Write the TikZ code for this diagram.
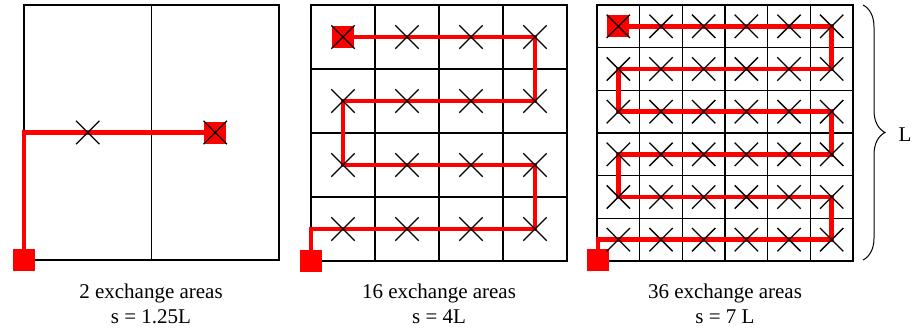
\documentclass[tikz,border=0pt]{standalone}
\usepackage{fontspec}
\setmainfont{Liberation Serif}
\usetikzlibrary{shapes.misc,decorations.pathreplacing}
\tikzset{
  gridline/.style={line width=1.4pt,draw=black},
  route/.style={line width=4.5pt,draw=red},
  xmark/.style={cross out,draw=black,line width=1.3pt,minimum size=22pt,inner sep=0pt},
  term/.style={rectangle,fill=red,minimum size=22pt,inner sep=0pt},
  lbl/.style={font=\fontsize{21}{25}\selectfont,anchor=base,inner sep=0pt},
  bracestyle/.style={line width=1pt,draw=black,decorate,decoration={brace,amplitude=22pt}}
}
\begin{document}
\begin{tikzpicture}[x=1pt,y=-1pt]
\useasboundingbox (0,0) rectangle (912,329);
% ---------- Panel 1 ----------
\draw[gridline] (24,5) rectangle (279,260);
\draw[gridline] (151.5,5) -- (151.5,260);
\coordinate (a1) at (87.75,132.5);
\coordinate (a2) at (215.25,132.5);
\coordinate (p1s) at (24,260);
\draw[route] (p1s) |- (a2);
\node[term] (s1) at (p1s) {};
\node[term] (e1) at (a2) {};
\node[xmark] (x1a) at (a1) {};
\node[xmark] (x1b) at (a2) {};
\node[lbl] (t1a) at (151,298) {2 exchange areas};
\node[lbl] (t1b) at (151,323) {s = 1.25L};
% ---------- Panel 2 ----------
\draw[gridline] (311,5) rectangle (567,261);
\foreach \k in {1,2,3}{
  \draw[gridline] ({311+64*\k},5) -- ({311+64*\k},261);
  \draw[gridline] (311,{5+64*\k}) -- (567,{5+64*\k});
}
\foreach \i in {1,...,4}{\foreach \j in {1,...,4}{
  \coordinate (b\i\j) at ({311+64*(\i-0.5)},{5+64*(\j-0.5)});
}}
\coordinate (p2s) at (311,261);
\draw[route] (p2s) |- (b44) -- (b43) -- (b13) -- (b12) -- (b42) -- (b41) -- (b11);
\node[term] (s2) at (p2s) {};
\node[term] (e2) at (b11) {};
\foreach \i in {1,...,4}{\foreach \j in {1,...,4}{
  \node[xmark] (xb\i\j) at (b\i\j) {};
}}
\node[lbl] (t2a) at (439,298) {16 exchange areas};
\node[lbl] (t2b) at (439,323) {s = 4L};
% ---------- Panel 3 ----------
\draw[gridline] (597,5) rectangle (853,261);
\foreach \k in {1,...,5}{
  \draw[gridline] ({597+256/6*\k},5) -- ({597+256/6*\k},261);
  \draw[gridline] (597,{5+256/6*\k}) -- (853,{5+256/6*\k});
}
\foreach \i in {1,...,6}{\foreach \j in {1,...,6}{
  \coordinate (c\i\j) at ({597+256/6*(\i-0.5)},{5+256/6*(\j-0.5)});
}}
\coordinate (p3s) at (598,260);
\draw[route] (p3s) |- (c66) -- (c65) -- (c15) -- (c14) -- (c64) -- (c63) -- (c13) -- (c12) -- (c62) -- (c61) -- (c11);
\node[term] (s3) at (p3s) {};
\node[term] (e3) at (c11) {};
\foreach \i in {1,...,6}{\foreach \j in {1,...,6}{
  \node[xmark] (xc\i\j) at (c\i\j) {};
}}
\node[lbl] (t3a) at (725,298) {36 exchange areas};
\node[lbl] (t3b) at (725,323) {s = 7 L};
% ---------- Brace ----------
\coordinate (bt) at (863,5);
\coordinate (bb) at (863,260);
\draw[bracestyle] (bt) -- (bb);
\node[lbl,anchor=base west] (lL) at (898.5,141) {L};
\end{tikzpicture}
\end{document}
